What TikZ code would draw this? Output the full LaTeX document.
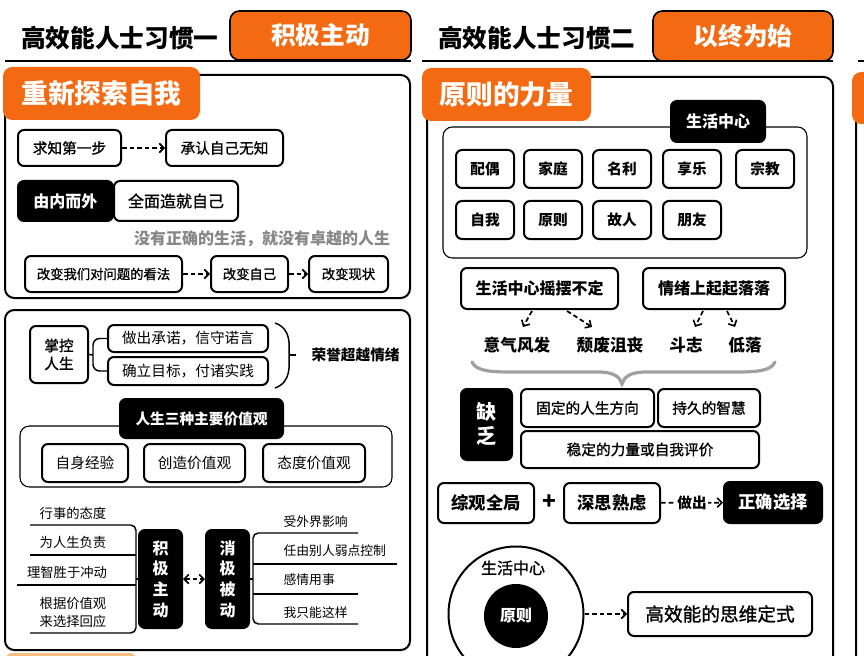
\documentclass[tikz,border=0pt]{standalone}
\usepackage{fontspec}
\setmainfont{Noto Sans CJK SC}
\newfontfamily\medf[FakeBold=1.2]{Noto Sans CJK SC}
\usetikzlibrary{arrows.meta,calc}
\definecolor{og}{RGB}{244,106,18}
\definecolor{gtxt}{RGB}{135,135,135}
\definecolor{gbrace}{RGB}{160,160,160}
\definecolor{pale}{RGB}{247,190,130}
\newcommand\fsz[1]{\fontsize{#1}{#1}\selectfont}
\newcommand\boxat[7]{\node[#6, minimum width={(#4-#2)*0.75pt}, minimum height={(#5-#3)*0.75pt}] (#1) at ({(#2+#4)/2},{(#3+#5)/2}) {#7};}
\tikzset{
  bx/.style={draw, line width=1.5pt, rounded corners=4.5pt, fill=white, inner sep=0pt, align=center},
  bk/.style={bx, fill=black, text=white},
  ob/.style={draw=black, line width=1.2pt, fill=og, rounded corners=7pt, text=white, inner sep=0pt, font=\fsz{18.5}\bfseries},
  oh/.style={fill=og, rounded corners=7pt, text=white, inner sep=0pt, font=\fsz{20}\bfseries},
  sec/.style={line width=1.5pt, rounded corners=7pt},
  grp/.style={line width=0.8pt, rounded corners=7pt},
  ln/.style={line width=1.1pt},
  tipb/.tip={Straight Barb[length=3.5pt,width=7pt,line width=1.2pt]},
  da/.style={dash pattern=on 3.5pt off 2.2pt, line width=1.3pt, -tipb},
  txt/.style={inner sep=1pt, align=center},
}
\begin{document}
\begin{tikzpicture}[x=0.75pt,y=-0.75pt]
\useasboundingbox (0,0) rectangle (864,656);
\fill[white] (0,0) rectangle (864,656);
\begin{scope}
\clip (0,0) rectangle (864,656);
% ---------------- left column ----------------
\draw[line width=1.5pt] (5,61) -- (411,61);
\node[anchor=west, inner sep=0pt, font=\fsz{18.5}\bfseries] (t1) at (21,38) {高效能人士习惯一};
\boxat{h1}{230}{11}{411}{60}{ob}{积极主动}

\draw[sec] (5,75) rectangle (410,298);
\boxat{s1h}{3}{67}{200}{120}{oh}{重新探索自我}
\boxat{qz}{18}{130}{121}{166}{bx,font=\fsz{11}\medf}{求知第一步}
\boxat{cr}{166}{130}{283}{166}{bx,font=\fsz{11}\medf}{承认自己无知}
\draw[da] (qz) -- (cr);
\boxat{ynew}{18}{181}{113}{221}{bk,font=\fsz{12}\bfseries}{由内而外}
\boxat{qm}{114}{181}{238}{221}{bx,font=\fsz{12}\medf}{全面造就自己}
\node[txt, font=\fsz{12}\bfseries, text=gtxt] (mot) at (262,239) {没有正确的生活，就没有卓越的人生};
\boxat{gb1}{25}{256}{182}{292}{bx,font=\fsz{10}\medf}{改变我们对问题的看法}
\boxat{gb2}{211}{256}{288}{292}{bx,font=\fsz{10}\medf}{改变自己}
\boxat{gb3}{309}{256}{388}{292}{bx,font=\fsz{10}\medf}{改变现状}
\draw[da] (gb1) -- (gb2);
\draw[da] (gb2) -- (gb3);

\draw[sec] (5,310) rectangle (410,650);
\boxat{zk}{30}{326}{88}{383}{bx,font=\fontsize{11}{13.5}\selectfont\medf}{掌控\\人生}
\boxat{zc1}{108}{325}{268}{352}{bx,font=\fsz{11}}{做出承诺，信守诺言}
\boxat{zc2}{108}{357}{268}{385}{bx,font=\fsz{11}}{确立目标，付诸实践}
\draw[ln] (zk.east) -- (93,355);
\draw[ln, rounded corners=5pt] (zc1.west) -| (93,355) |- (zc2.west);
\draw[ln] (275,323) .. controls (292,329) and (289,346) .. (289,355) .. controls (289,364) and (292,382) .. (275,388);
\coordinate (brk) at (289,355);
\node[anchor=west, txt, font=\fsz{11}\bfseries] (ry) at (310,355) {荣誉超越情绪};
\draw[ln] (brk) -- (296,355);

\draw[grp] (20,426) rectangle (392,487);
\boxat{rs}{120}{399}{283}{438}{bk,font=\fsz{11}\bfseries}{人生三种主要价值观}
\boxat{v1}{42}{444}{128}{482}{bx,font=\fsz{11}}{自身经验}
\boxat{v2}{144}{444}{245}{482}{bx,font=\fsz{11}}{创造价值观}
\boxat{v3}{263}{444}{365}{482}{bx,font=\fsz{11}}{态度价值观}

\boxat{jj}{139}{530}{182}{628}{bk,font=\fontsize{12}{15.5}\selectfont\bfseries}{积\\极\\主\\动}
\boxat{xj}{206}{530}{249}{628}{bk,font=\fontsize{12}{15.5}\selectfont\bfseries}{消\\极\\被\\动}
\draw[da, tipb-tipb] (jj) -- (xj);

\node[txt, font=\fsz{10}] (l1) at (73,513) {行事的态度};
\node[txt, font=\fsz{10}] (l2) at (73,542) {为人生负责};
\node[txt, font=\fsz{10}] (l3) at (67,572) {理智胜于冲动};
\node[txt, font=\fontsize{10}{13.5}\selectfont] (l4) at (73,612) {根据价值观\\来选择回应};
\draw[ln, rounded corners=4pt] (30,525) -- (136,525) -- (136,633) -- (30,633);
\draw[ln] (30,555) -- (136,555);
\draw[ln] (17,585) -- (136,585);
\coordinate (lsp) at (136,579);
\draw[ln] (lsp) -- (jj.west |- lsp);

\node[anchor=west, txt, font=\fsz{9.6}] (r1) at (282,522) {受外界影响};
\node[anchor=west, txt, font=\fsz{9.6}] (r2) at (282,551) {任由别人弱点控制};
\node[anchor=west, txt, font=\fsz{9.6}] (r3) at (282,580) {感情用事};
\node[anchor=west, txt, font=\fsz{9.6}] (r4) at (282,613) {我只能这样};
\draw[ln, rounded corners=4pt] (358,533) -- (253,533) -- (253,624) -- (358,624);
\draw[ln] (253,564) -- (397,564);
\draw[ln] (253,594) -- (358,594);
\coordinate (rsp) at (253,579);
\draw[ln] (xj.east |- rsp) -- (rsp);

\fill[pale, rounded corners=4pt] (6,653) rectangle (136,672);

% ---------------- right column ----------------
\draw[line width=1.5pt] (422,61) -- (833,61);
\node[anchor=west, inner sep=0pt, font=\fsz{18.5}\bfseries] (t2) at (438,38) {高效能人士习惯二};
\boxat{h2}{653}{11}{833}{61}{ob}{以终为始}

\draw[sec] (427,77) rectangle (833,720);
\boxat{s2h}{422}{68}{591}{121}{oh}{原则的力量}
\draw[grp] (443,127) rectangle (807,258);
\boxat{shzx}{671}{101}{765}{142}{bk,font=\fsz{12}\bfseries}{生活中心}
\boxat{p1}{456}{150}{514}{188}{bx,font=\fsz{11}\bfseries}{配偶}
\boxat{p2}{524}{150}{582}{188}{bx,font=\fsz{11}\bfseries}{家庭}
\boxat{p3}{593}{150}{651}{188}{bx,font=\fsz{11}\bfseries}{名利}
\boxat{p4}{663}{150}{721}{188}{bx,font=\fsz{11}\bfseries}{享乐}
\boxat{p5}{736}{150}{794}{188}{bx,font=\fsz{11}\bfseries}{宗教}
\boxat{p6}{456}{201}{514}{239}{bx,font=\fsz{11}\bfseries}{自我}
\boxat{p7}{524}{201}{582}{239}{bx,font=\fsz{11}\bfseries}{原则}
\boxat{p8}{593}{201}{651}{239}{bx,font=\fsz{11}\bfseries}{故人}
\boxat{p9}{663}{201}{721}{239}{bx,font=\fsz{11}\bfseries}{朋友}

\boxat{yb}{461}{268}{618}{309}{bx,font=\fsz{12}\bfseries}{生活中心摇摆不定}
\boxat{qx}{643}{268}{785}{309}{bx,font=\fsz{12}\bfseries}{情绪上起起落落}
\node[txt, font=\fsz{12.5}\bfseries] (w1) at (517,345) {意气风发};
\node[txt, font=\fsz{12.5}\bfseries] (w2) at (610,345) {颓废沮丧};
\node[txt, font=\fsz{12.5}\bfseries] (w3) at (686,345) {斗志};
\node[txt, font=\fsz{12.5}\bfseries] (w4) at (745,345) {低落};
\draw[da] ($(yb.south)+(-7.5,1)$) -- ($(w1)+(6,-18)$);
\draw[da] ($(yb.south)+(27.5,1)$) -- ($(w2)+(-18,-18)$);
\draw[da] ($(qx.south)+(-11,1)$) -- ($(w3)+(9,-18)$);
\draw[da] ($(qx.south)+(13,1)$) -- ($(w4)+(-10,-18)$);

\draw[gbrace, line width=2.4pt, line cap=round] (472,362) .. controls (476,371) and (490,372) .. (512,372) -- (598,372) .. controls (614,372) and (620,377) .. (622,384) .. controls (624,377) and (630,372) .. (646,372) -- (735,372) .. controls (757,372) and (771,371) .. (775,362);

\boxat{qf}{461}{389}{512}{460}{bk,font=\fontsize{15}{18}\selectfont\bfseries}{缺\\乏}
\boxat{c1}{521}{389}{654}{427}{bx,font=\fsz{11}\medf}{固定的人生方向}
\boxat{c2}{658}{389}{760}{427}{bx,font=\fsz{11}\medf}{持久的智慧}
\boxat{c3}{521}{431}{759}{468}{bx,font=\fsz{11}\medf}{稳定的力量或自我评价}

\boxat{zg}{438}{483}{534}{523}{bx,font=\fsz{13}\bfseries}{综观全局}
\node[txt, font=\fsz{17}\bfseries] (plus) at (549,502) {+};
\boxat{ss}{564}{483}{660}{523}{bx,font=\fsz{13}\bfseries}{深思熟虑}
\boxat{zq}{724}{482}{822}{523}{bk,font=\fsz{13}\bfseries}{正确选择}
\draw[da] (ss) -- node[fill=white, inner sep=1pt, font=\fsz{11}\bfseries] (zcl) {做出} (zq);

\node[circle, draw, line width=1.5pt, minimum size={135*0.75pt}, inner sep=0pt] (oc) at (516,614) {};
\node[txt, font=\fsz{12}\medf] (shl) at (513,568) {生活中心};
\node[circle, fill=black, minimum size={64*0.75pt}, inner sep=0pt, text=white, font=\fsz{12}\bfseries] (yz) at (516,616) {原则};
\boxat{gx}{628}{592}{812}{636}{bx,font=\fsz{14}\medf}{高效能的思维定式}
\draw[da] (oc) -- (gx);

% ---------------- third column (cut off) ----------------
\draw[line width=1.5pt] (858,61) -- (890,61);
\draw[sec] (856,79) rectangle (1000,720);
\fill[og, rounded corners=7pt] (852,72) rectangle (900,124);
\end{scope}
\end{tikzpicture}
\end{document}
